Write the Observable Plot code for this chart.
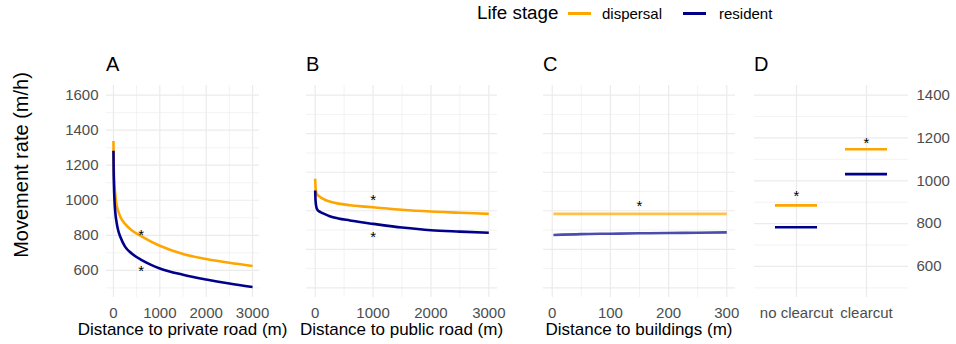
<!DOCTYPE html>
<html>
<head>
<meta charset="utf-8">
<script src="https://cdn.jsdelivr.net/npm/d3@7"></script>
<script src="https://cdn.jsdelivr.net/npm/@observablehq/plot@0.6"></script>
<style>
  body { margin: 0; background: #fff; }
  #chart { position: relative; width: 956px; height: 344px; overflow: hidden;
           font-family: "Liberation Sans", Arial, sans-serif; background: #fff; }
  .abs { position: absolute; white-space: nowrap; line-height: 1; }
  .panel-title { font-size: 20px; color: #000; }
  .axis-title { font-size: 17px; color: #000; text-align: center; }
  .key { position: absolute; height: 3px; }
  svg { position: absolute; }
</style>
</head>
<body>
<div id="chart"></div>
<script>
// Life stages and their colours
const lifeStages = ["dispersal", "resident"];
const stageColors = ["#FFA500", "#00008B"];

// A: distance to private road
const roadDistance = [0, 5, 10, 20, 40, 70, 100, 150, 250, 400, 600, 800, 1000, 1500, 2000, 2500, 3000];
const privateDispersal = [1338, 1210, 1160, 1100, 1030, 970, 940, 905, 865, 828, 795, 765, 740, 693, 665, 643, 625];
const privateResident = [1282, 1150, 1090, 1010, 930, 870, 830, 790, 735, 695, 660, 633, 611, 575, 548, 525, 505];
const privateStarDistance = [600, 600];
const privateStarRate = [819, 615];

// B: distance to public road
const publicDispersal = [1166, 1125, 1108, 1093, 1082, 1075, 1068, 1060, 1048, 1037, 1029, 1023, 1018, 1005, 996, 990, 984];
const publicResident = [1105, 1060, 1040, 1020, 1005, 997, 992, 985, 972, 960, 950, 940, 932, 913, 899, 892, 886];
const publicStarDistance = [1000, 1000];
const publicStarRate = [1073, 877];

// C: distance to buildings
const buildingDistance = [2, 50, 100, 150, 200, 250, 300];
const buildingDispersal = [984, 984, 984, 984, 984, 984, 984];
const buildingResident = [874, 879, 881, 883, 885, 886, 888];
const buildingStarDistance = [150];
const buildingStarRate = [1041];

// D: clearcut
const clearcutCategories = ["no clearcut", "clearcut"];
const clearcutDispersal = [885, 1147];
const clearcutResident = [783, 1031];
const clearcutStarRate = [942, 1191];

// Tick values
const rateTicksA = [600, 800, 1000, 1200, 1400, 1600];
const rateMinorA = [500, 700, 900, 1100, 1300, 1500];
const rateTicksBC = [600, 800, 1000, 1200, 1400, 1600];
const rateMinorBC = [700, 900, 1100, 1300, 1500];
const rateTicksD = [600, 800, 1000, 1200, 1400];
const rateMinorD = [500, 700, 900, 1100, 1300];
const roadTicks = [0, 1000, 2000, 3000];
const roadMinor = [500, 1500, 2500];
const buildingTicks = [0, 100, 200, 300];
const buildingMinor = [50, 150, 250];

// Text
const panelTitles = ["A", "B", "C", "D"];
const xTitles = ["Distance to private road (m)", "Distance to public road (m)", "Distance to buildings (m)"];
const yTitle = "Movement rate (m/h)";
const legendTitle = "Life stage";

const FONT = '"Liberation Sans", Arial, sans-serif';
const GRID = "#ebebeb";
const TICK_TEXT = "#4d4d4d";
const LINE_W = 2.6;
const plain = d3.format("d");

function curveRows(xs, seriesList) {
  const rows = [];
  seriesList.forEach((ys, i) => xs.forEach((x, j) => rows.push({x, y: ys[j], stage: lifeStages[i]})));
  return rows;
}
function starRows(xs, ys) { return xs.map((x, i) => ({x, y: ys[i]})); }

const chart = document.getElementById("chart");
const stageScale = {domain: lifeStages, range: stageColors};

function place(svg, left, top) {
  svg.style.left = left + "px";
  svg.style.top = top + "px";
  chart.appendChild(svg);
}

function curvePanel({left, width, marginLeft, marginRight, xDomain, yDomain, xTicks, xMinor,
                     yTicks, yMinor, showY, rows, stars, opacity}) {
  const svg = Plot.plot({
    width, height: 252, marginLeft, marginRight, marginTop: 10, marginBottom: 30,
    style: {fontFamily: FONT, fontSize: "15px", color: TICK_TEXT, background: "transparent", overflow: "visible"},
    x: {domain: xDomain, axis: null},
    y: {domain: yDomain, axis: null},
    color: stageScale,
    marks: [
      Plot.gridX(xMinor, {stroke: GRID, strokeOpacity: 1, strokeWidth: 0.6}),
      Plot.gridY(yMinor, {stroke: GRID, strokeOpacity: 1, strokeWidth: 0.6}),
      Plot.gridX(xTicks, {stroke: GRID, strokeOpacity: 1, strokeWidth: 1.2}),
      Plot.gridY(yTicks, {stroke: GRID, strokeOpacity: 1, strokeWidth: 1.2}),
      Plot.axisX(xTicks, {tickSize: 0, tickPadding: 10, fontSize: 15, label: null, fill: TICK_TEXT, tickFormat: plain}),
      showY ? Plot.axisY(yTicks, {tickSize: 0, tickPadding: 8, fontSize: 15, label: null, fill: TICK_TEXT, tickFormat: plain}) : null,
      Plot.line(rows, {x: "x", y: "y", z: "stage", stroke: "stage", strokeWidth: LINE_W,
                       strokeOpacity: opacity, strokeLinecap: "butt", curve: "monotone-x"}),
      Plot.text(stars, {x: "x", y: "y", text: () => "*", fontSize: 15, fill: "#000", dy: 3})
    ]
  });
  place(svg, left, 75);
}

// A
curvePanel({
  left: 0, width: 280, marginLeft: 106, marginRight: 21,
  xDomain: [-150, 3150], yDomain: [445, 1655],
  xTicks: roadTicks, xMinor: roadMinor, yTicks: rateTicksA, yMinor: rateMinorA, showY: true,
  rows: curveRows(roadDistance, [privateDispersal, privateResident]),
  stars: starRows(privateStarDistance, privateStarRate), opacity: 1
});
// B
curvePanel({
  left: 290, width: 220, marginLeft: 16, marginRight: 13,
  xDomain: [-150, 3150], yDomain: [550, 1650],
  xTicks: roadTicks, xMinor: roadMinor, yTicks: rateTicksBC, yMinor: rateMinorBC, showY: false,
  rows: curveRows(roadDistance, [publicDispersal, publicResident]),
  stars: starRows(publicStarDistance, publicStarRate), opacity: 1
});
// C
curvePanel({
  left: 520, width: 230, marginLeft: 23, marginRight: 15,
  xDomain: [-15, 315], yDomain: [550, 1650],
  xTicks: buildingTicks, xMinor: buildingMinor, yTicks: rateTicksBC, yMinor: rateMinorBC, showY: false,
  rows: curveRows(buildingDistance, [buildingDispersal, buildingResident]),
  stars: starRows(buildingStarDistance, buildingStarRate), opacity: 0.7
});

// D: categorical panel with its own right-hand axis
{
  const rows = [];
  [clearcutDispersal, clearcutResident].forEach((vals, i) =>
    clearcutCategories.forEach((c, j) => rows.push({cat: c, y: vals[j], stage: lifeStages[i]})));
  const stars = clearcutCategories.map((c, j) => ({cat: c, y: clearcutStarRate[j]}));
  const svg = Plot.plot({
    width: 256, height: 252, marginLeft: 54, marginRight: 48, marginTop: 10, marginBottom: 30,
    style: {fontFamily: FONT, fontSize: "15px", color: TICK_TEXT, background: "transparent", overflow: "visible"},
    x: {type: "band", domain: clearcutCategories, paddingInner: 0.4, paddingOuter: 0.3, axis: null},
    y: {domain: [455, 1445], axis: null},
    color: stageScale,
    marks: [
      Plot.gridY(rateMinorD, {stroke: GRID, strokeOpacity: 1, strokeWidth: 0.6}),
      Plot.gridY(rateTicksD, {stroke: GRID, strokeOpacity: 1, strokeWidth: 1.2}),
      Plot.gridX(clearcutCategories, {stroke: GRID, strokeOpacity: 1, strokeWidth: 1.2}),
      Plot.axisX(clearcutCategories, {tickSize: 0, tickPadding: 10, fontSize: 15, label: null, fill: TICK_TEXT}),
      Plot.axisY(rateTicksD, {anchor: "right", tickSize: 0, tickPadding: 8, fontSize: 15, label: null, fill: TICK_TEXT, tickFormat: plain}),
      Plot.tickY(rows, {x: "cat", y: "y", stroke: "stage", strokeWidth: LINE_W}),
      Plot.text(stars, {x: "cat", y: "y", text: () => "*", fontSize: 15, fill: "#000", dy: 3})
    ]
  });
  place(svg, 700, 75);
}

// HTML text: panel titles, axis titles, legend
function addText(text, cls, style) {
  const d = document.createElement("div");
  d.className = "abs " + cls;
  d.textContent = text;
  Object.assign(d.style, style);
  chart.appendChild(d);
  return d;
}
const titleLefts = [106, 306, 543, 754];
panelTitles.forEach((t, i) => addText(t, "panel-title", {left: titleLefts[i] + "px", top: "54px"}));

const xTitleCenters = [182.5, 401.5, 639];
xTitles.forEach((t, i) => addText(t, "axis-title", {left: (xTitleCenters[i] - 150) + "px", width: "300px", top: "321px"}));

addText(yTitle, "", {fontSize: "20px", color: "#000", left: "21px", top: "165px",
  transform: "translate(-50%, -50%) rotate(-90deg)"});

// Legend
addText(legendTitle, "", {fontSize: "18.8px", color: "#000", left: "477px", top: "4px"});
const keyLefts = [568, 683];
const labelLefts = [602, 719];
lifeStages.forEach((s, i) => {
  const k = document.createElement("div");
  k.className = "key";
  Object.assign(k.style, {left: keyLefts[i] + "px", top: "12px", width: "23px", background: stageColors[i]});
  chart.appendChild(k);
  addText(s, "", {fontSize: "15px", color: "#000", left: labelLefts[i] + "px", top: "6px"});
});
</script>
</body>
</html>
